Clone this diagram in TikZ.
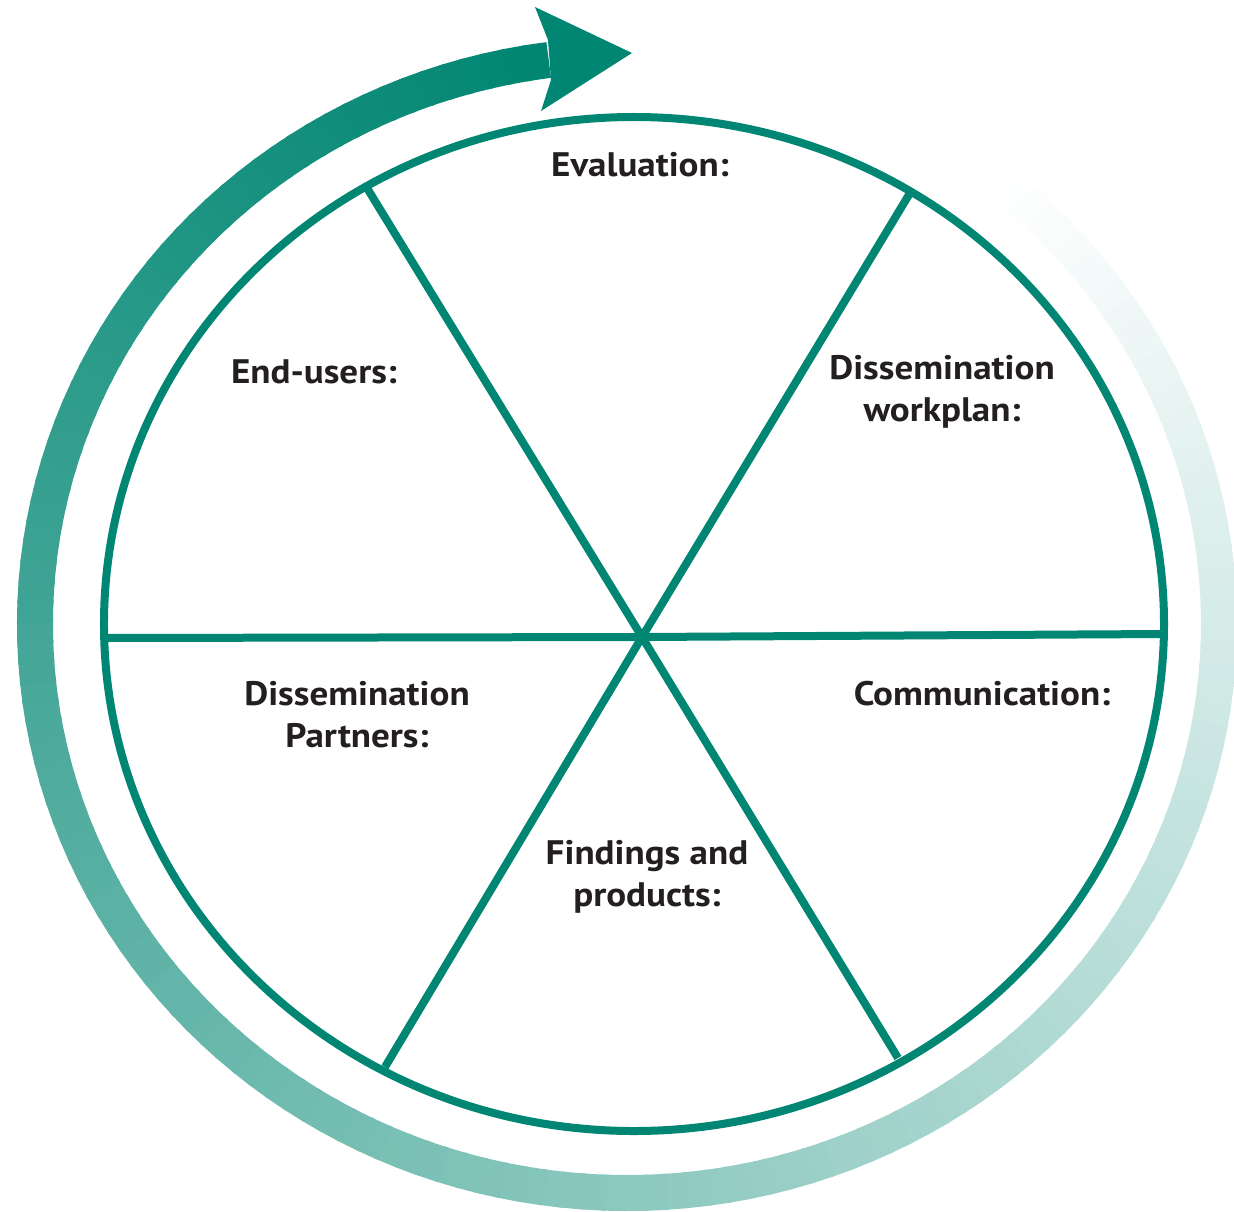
\documentclass[tikz,border=0pt]{standalone}
\usepackage{fontspec}
\setmainfont{PT Sans}[FakeStretch=1.09]
\definecolor{wheelgreen}{RGB}{0,134,114}
\definecolor{labeltext}{RGB}{35,31,32}

\begin{document}
\begin{tikzpicture}[x=0.5pt, y=0.5pt]
        \tikzstyle{every node}=[inner sep=0pt, anchor=base, font=\fontsize{17}{21}\selectfont\bfseries, text=labeltext]
        \tikzstyle{spoke}=[wheelgreen, line width=4pt]
        \tikzstyle{ring}=[line width=18pt]

        \useasboundingbox (-634,-587) rectangle (600,624);

        % fading ring, light at the right, dark at the arrow
        \foreach \i in {0,...,155} {
            \pgfmathsetmacro{\ta}{50-2*\i}
            \pgfmathsetmacro{\tb}{max(\ta-2.5,-262.4)}
            \pgfmathsetmacro{\pc}{100*(\i+1)/156}
            \draw[ring, wheelgreen!\pc!white] (-7,0) ++(\ta:592 and 569) arc[start angle=\ta, end angle=\tb, x radius=592, y radius=569];
        }
        \coordinate (tip) at (-2,571);
        \fill[wheelgreen] (-86,584) -- (-99,617) -- (tip) -- (-93,513) -- (-83,544) -- cycle;

        % the wheel
        \coordinate (hub) at (8,-13);
        \coordinate (tl) at (-267,436);
        \coordinate (tr) at (276,431);
        \coordinate (l)  at (-530,-14);
        \coordinate (r)  at (529,-10);
        \coordinate (bl) at (-249,-443);
        \coordinate (br) at (264,-434);

        \draw[spoke] (0,0) ellipse [x radius=530, y radius=507];
        \draw[spoke] (tl) -- (hub) -- (br);
        \draw[spoke] (tr) -- (hub) -- (bl);
        \draw[spoke] (l) -- (hub) -- (r);

        \node (eval)     at (6,447)    {Evaluation:};
        \node (users)    at (-320,241) {End-users:};
        \node (workplan) at (308,245)  {\begin{tabular}[t]{@{}c@{}} Dissemination \\ workplan: \end{tabular}};
        \node (comm)     at (348,-81)  {Communication:};
        \node (partners) at (-277,-81) {\begin{tabular}[t]{@{}c@{}} Dissemination \\ Partners: \end{tabular}};
        \node (findings) at (13,-240)  {\begin{tabular}[t]{@{}c@{}} Findings and \\ products: \end{tabular}};
    \end{tikzpicture}
\end{document}
